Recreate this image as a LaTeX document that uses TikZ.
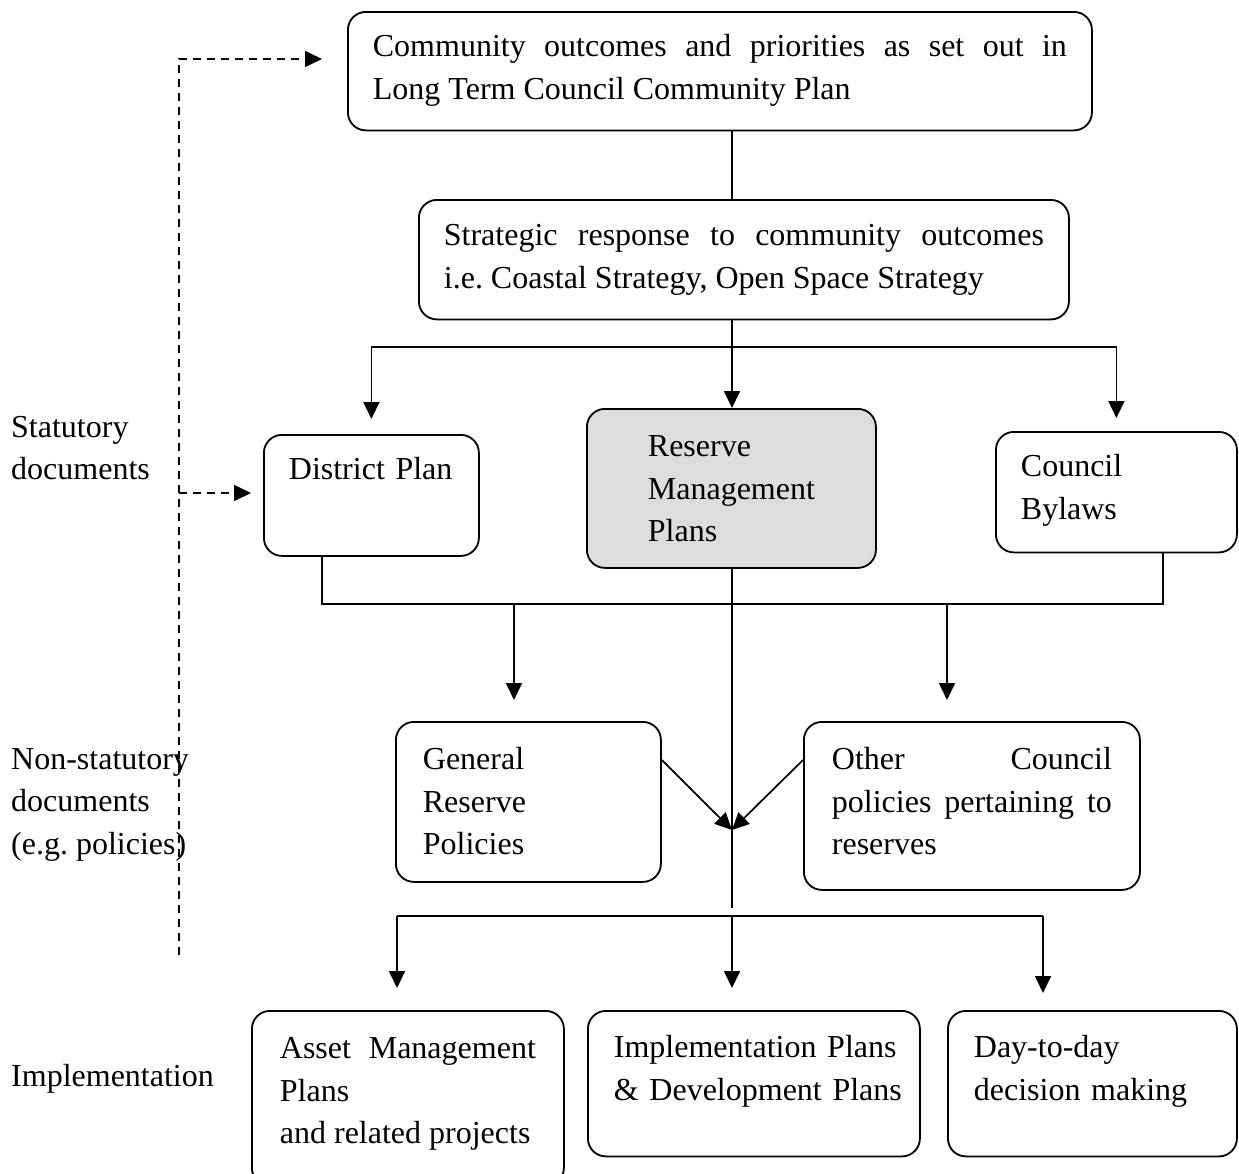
\documentclass[tikz,border=0pt]{standalone}
\usepackage{fontspec}
\setmainfont{Liberation Serif}
\usetikzlibrary{arrows.meta}
\definecolor{rmpgray}{RGB}{221,221,221}
\newcommand{\tstrut}[1]{\rule{0pt}{#1pt}}
\newcommand{\bstrut}[1]{\rule[-#1pt]{0pt}{0pt}}
\newcommand{\jpad}[2]{\leftskip=#1pt\rightskip=#2pt\relax}
\newcommand{\rpad}[1]{\leftskip=#1pt\rightskip=0pt plus 1fil\relax}
\frenchspacing
\begin{document}
\begin{tikzpicture}[x=1pt,y=-1pt,
  box/.style={draw, line width=1.8pt, rounded corners=18pt, anchor=north west,
    inner sep=0pt, font=\fontsize{32}{42.5}\selectfont},
  lbl/.style={anchor=north west, inner sep=0pt, align=left,
    font=\fontsize{32}{42.5}\selectfont},
  con/.style={line width=1.7pt},
  tip/.style={-{Triangle[length=17pt,width=16pt]}},
  arr/.style={con, tip},
  dsh/.style={line width=1.6pt, dash pattern=on 8pt off 6pt, tip}
]
\useasboundingbox (0,0) rectangle (1239,1173);

% boxes
\node[box, text width=744pt, align=justify] (top) at (347,11)
  {\jpad{25}{25}\tstrut{45}Community outcomes and priorities as set out in\linebreak Long Term Council Community Plan\bstrut{31}\par};
\node[box, text width=650pt, align=justify] (strat) at (418,199)
  {\jpad{25}{25}\tstrut{46}Strategic response to community outcomes\linebreak i.e. Coastal Strategy, Open Space Strategy\bstrut{31}\par};
\node[box, text width=215pt, align=left] (dp) at (263,434)
  {\rpad{25}\tstrut{45}District Plan\bstrut{76}\par};
\node[box, fill=rmpgray, text width=289pt, align=left] (rmp) at (586,408)
  {\rpad{61}\tstrut{48}Reserve\\Management\\Plans\bstrut{26}\par};
\node[box, text width=241pt, align=left] (cb) at (995,431)
  {\rpad{25}\tstrut{45}Council\\Bylaws\bstrut{33}\par};
\node[box, text width=265pt, align=left] (grp) at (395,721)
  {\rpad{27}\tstrut{48}General\\Reserve\\Policies\bstrut{27}\par};
\node[box, text width=336pt, align=justify] (ocp) at (803,721)
  {\jpad{28}{28}\tstrut{48}Other Council\linebreak policies pertaining to\linebreak reserves\bstrut{35}\par};
\node[box, text width=312pt, align=justify] (amp) at (251,1010)
  {\jpad{28}{28}\tstrut{48}Asset Management\linebreak Plans\newline and related projects\bstrut{42}\par};
\node[box, text width=332pt, align=left] (ipl) at (587,1010)
  {\rpad{26}\tstrut{47}Implementation Plans\\\& Development Plans\bstrut{56}\par};
\node[box, text width=289pt, align=left] (dtd) at (947,1010)
  {\rpad{26}\tstrut{47}Day-to-day\\decision making\bstrut{56}\par};

% side labels
\node[lbl] (lstat) at (11,407) {\tstrut{30}Statutory\\documents};
\node[lbl] (lnon) at (11,739) {\tstrut{30}Non-statutory\\documents\\(e.g. policies)};
\node[lbl] (limp) at (11,1056) {\tstrut{30}Implementation};

% helper coordinates
\coordinate (mx) at (732,0);
\coordinate (sp) at (732,347);
\coordinate (jl) at (322,604);
\coordinate (jr) at (1163,604);
\coordinate (a1) at (514,604);
\coordinate (a2) at (947,604);
\coordinate (dy) at (0,760);
\coordinate (meet) at (732,830);
\coordinate (cend) at (732,908);
\coordinate (b1) at (397,916);
\coordinate (b2) at (732,916);
\coordinate (b3) at (1043,916);
\coordinate (dtopc) at (179,59);
\coordinate (dmid) at (179,493);
\coordinate (dbot) at (179,955);

% connectors
\draw[con] (top.south -| mx) -- (strat.north -| mx);
\draw[arr] (strat.south -| mx) -- (rmp.north -| mx);
\draw[arr, shorten >=15pt] (sp) -| (dp.north);
\draw[arr, shorten >=13pt] (sp) -| (cb.north);
\draw[con] (dp.south -| jl) -- (jl) -- (jr) -- (cb.south -| jr);
\draw[arr, shorten >=21pt] (a1) -- (grp.north -| a1);
\draw[arr, shorten >=21pt] (a2) -- (ocp.north -| a2);
\draw[con] (rmp.south -| mx) -- (cend);
\draw[arr] (grp.east |- dy) -- (meet);
\draw[arr] (ocp.west |- dy) -- (meet);
\draw[con] (b1) -- (b3);
\draw[arr, shorten >=22pt] (b1) -- (amp.north -| b1);
\draw[arr, shorten >=22pt] (b2) -- (ipl.north -| b2);
\draw[arr, shorten >=17pt] (b3) -- (dtd.north -| b3);

% dashed feedback
\draw[dsh, shorten >=25pt] (dbot) -- (dtopc) -- (top.west |- dtopc);
\draw[dsh, shorten >=12pt] (dmid) -- (dp.west |- dmid);
\end{tikzpicture}
\end{document}
